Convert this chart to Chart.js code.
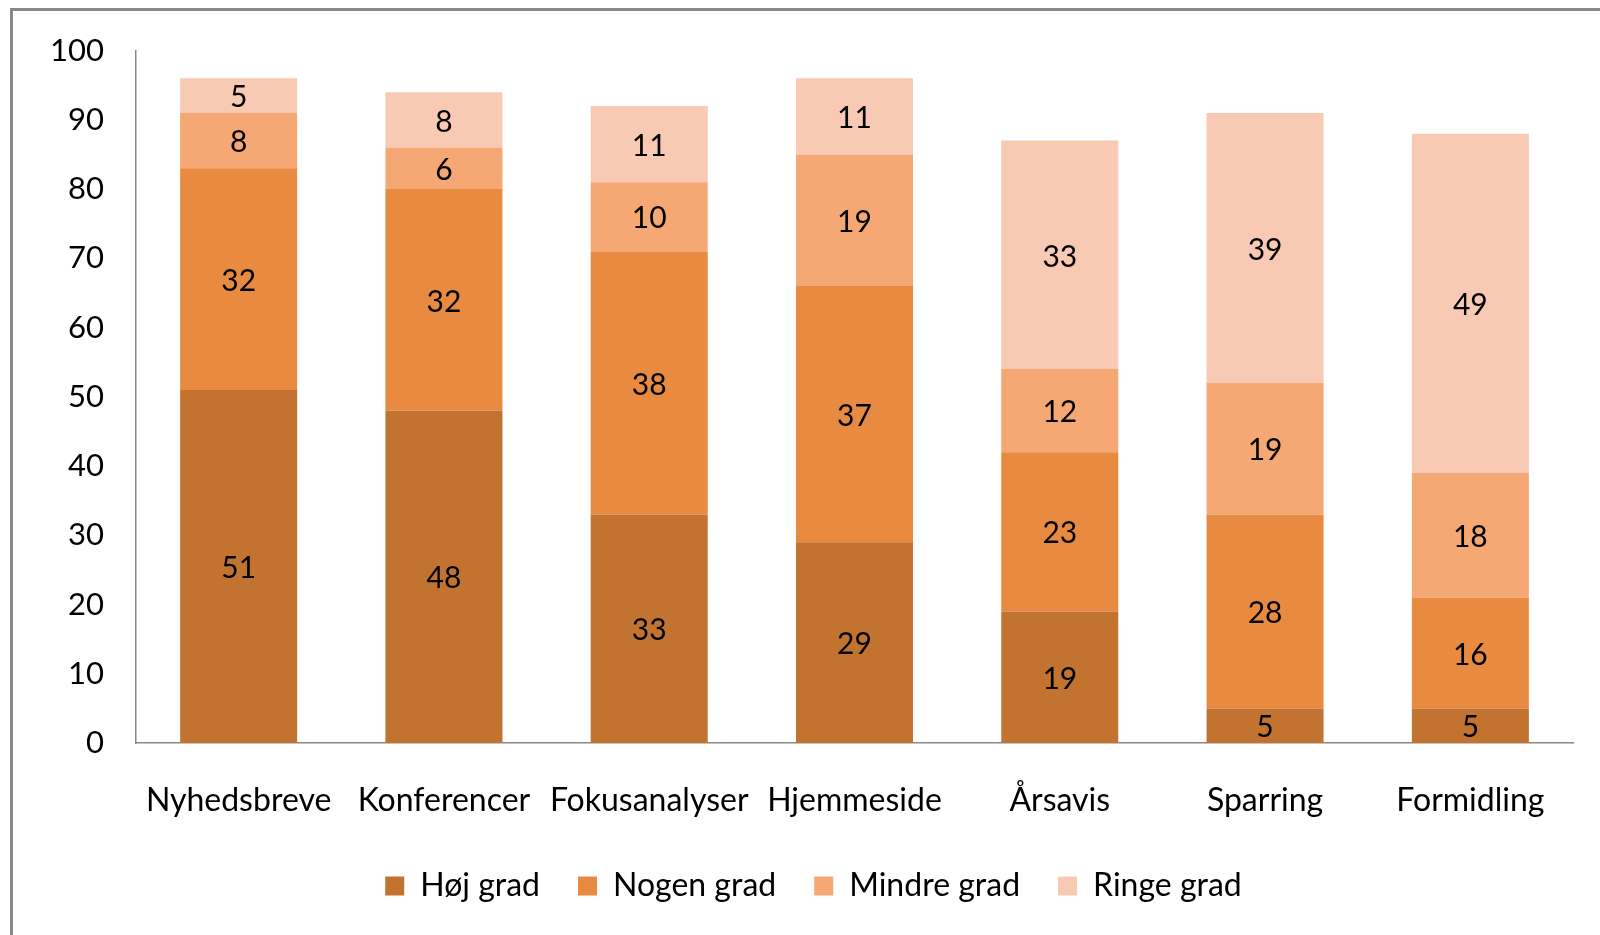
<!DOCTYPE html>
<html>
<head>
<meta charset="utf-8">
<script src="https://cdn.jsdelivr.net/npm/chart.js@4/dist/chart.umd.min.js"></script>
<style>
  html, body { margin:0; padding:0; background:#fff; }
  #wrap { position:relative; width:1600px; height:935px; overflow:hidden; }
  #frame { position:absolute; left:10px; top:8px; width:1700px; height:1000px;
           border-left:3px solid #888; border-top:3px solid #888; }
  #c { position:absolute; left:0; top:0; }
</style>
</head>
<body>
<div id="wrap">
  <div id="frame"></div>
  <canvas id="c" width="1600" height="935"></canvas>
</div>
<script>
// categories + series
var categories = ["Nyhedsbreve","Konferencer","Fokusanalyser","Hjemmeside","Årsavis","Sparring","Formidling"];
var hojGrad    = [51, 48, 33, 29, 19,  5,  5];
var nogenGrad  = [32, 32, 38, 37, 23, 28, 16];
var mindreGrad = [ 8,  6, 10, 19, 12, 19, 18];
var ringeGrad  = [ 5,  8, 11, 11, 33, 39, 49];
var seriesNames = ["Høj grad","Nogen grad","Mindre grad","Ringe grad"];
var colors = ["#C1732F","#E88B40","#F5A874","#F8CAB4"];

var FONT = "Lato";

// draws the number in the middle of each bar segment
var barLabels = {
  id: "barLabels",
  afterDatasetsDraw: function(chart){
    var ctx = chart.ctx;
    ctx.save();
    ctx.font = "30px " + FONT;
    ctx.fillStyle = "#000";
    ctx.textAlign = "center";
    ctx.textBaseline = "middle";
    chart.data.datasets.forEach(function(ds, i){
      var meta = chart.getDatasetMeta(i);
      meta.data.forEach(function(bar, j){
        var y = (bar.y + bar.base) / 2;
        ctx.fillText(ds.data[j], bar.x, y + 2);
      });
    });
    ctx.restore();
  }
};

// legend in the original sits a bit right of centre
var legendShift = {
  id: "legendShift",
  afterLayout: function(chart){
    if (chart.legend) {
      chart.legend.left += 16;
      chart.legend.right += 16;
    }
  }
};

var data = {
  labels: categories,
  datasets: [
    { label: seriesNames[0], data: hojGrad,    backgroundColor: colors[0] },
    { label: seriesNames[1], data: nogenGrad,  backgroundColor: colors[1] },
    { label: seriesNames[2], data: mindreGrad, backgroundColor: colors[2] },
    { label: seriesNames[3], data: ringeGrad,  backgroundColor: colors[3] }
  ]
};

new Chart(document.getElementById("c"), {
  type: "bar",
  data: data,
  plugins: [barLabels, legendShift],
  options: {
    responsive: false,
    animation: false,
    categoryPercentage: 1,
    barPercentage: 0.57,
    layout: { padding: { left: 22, right: 27, top: 45, bottom: 23 } },
    plugins: {
      tooltip: { enabled: false },
      legend: {
        position: "bottom",
        labels: {
          font: { family: FONT, size: 32 },
          color: "#000",
          boxWidth: 19,
          boxHeight: 19,
          padding: 38
        }
      }
    },
    scales: {
      x: {
        stacked: true,
        grid: { display: false, drawTicks: false },
        border: { color: "#888", width: 1.5 },
        ticks: { font: { family: FONT, size: 32 }, color: "#000", padding: 38, maxRotation: 0, autoSkip: false },
        afterFit: function(scale){ scale.height = 89; }
      },
      y: {
        stacked: true,
        min: 0, max: 100,
        grid: { display: false, drawTicks: false },
        border: { color: "#888", width: 1.5 },
        ticks: { stepSize: 10, font: { family: FONT, size: 31 }, color: "#000", padding: 32 },
        afterFit: function(scale){ scale.width = 114; }
      }
    }
  }
});
</script>
</body>
</html>
